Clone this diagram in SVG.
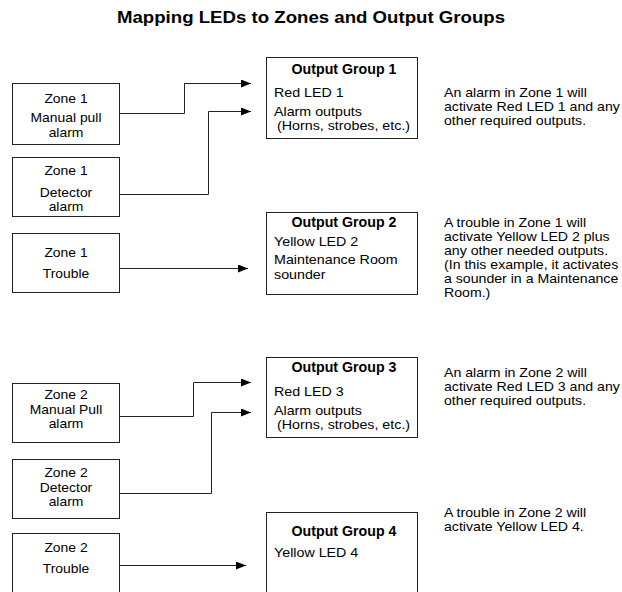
<svg xmlns="http://www.w3.org/2000/svg" width="622" height="592" viewBox="0 0 622 592">
<style>
text{font-family:"Liberation Sans",Arial,sans-serif;font-size:12.4px;fill:#000}
.t{font-size:16.5px;font-weight:bold}
.h{font-weight:bold;font-size:14.2px}
.c{text-anchor:middle}
.box{fill:#fff;stroke:#222;stroke-width:1}
.ln{fill:none;stroke:#222;stroke-width:1}
</style>
<defs>
<marker id="a" viewBox="0 0 10 8" refX="10" refY="4" markerWidth="10" markerHeight="8" markerUnits="userSpaceOnUse" orient="auto">
<path d="M0,0 L10,4 L0,8 z" fill="#000"/>
</marker>
</defs>
<g transform="translate(311,23) scale(1.13,1)"><text class="t c" x="0" y="0">Mapping LEDs to Zones and Output Groups</text></g>

<g id="z1m"><rect class="box" x="12.5" y="83.5" width="107" height="61"/>
<g transform="translate(66,0) scale(1.12,1)"><text class="c" x="0" y="103">Zone 1</text><text class="c" x="0" y="122">Manual pull</text><text class="c" x="0" y="137">alarm</text></g></g>
<g id="z1d"><rect class="box" x="12.5" y="157.5" width="107" height="59"/>
<g transform="translate(66,0) scale(1.12,1)"><text class="c" x="0" y="175">Zone 1</text><text class="c" x="0" y="197">Detector</text><text class="c" x="0" y="211">alarm</text></g></g>
<g id="z1t"><rect class="box" x="12.5" y="233.5" width="107" height="59"/>
<g transform="translate(66,0) scale(1.12,1)"><text class="c" x="0" y="257">Zone 1</text><text class="c" x="0" y="278">Trouble</text></g></g>

<g id="og1"><rect class="box" x="266.5" y="57.5" width="151" height="81"/>
<text class="h c" x="344" y="74">Output Group 1</text>
<g transform="translate(274,0) scale(1.15,1)"><text x="0" y="97">Red LED 1</text><text x="0" y="116">Alarm outputs</text><text x="2.6" y="130">(Horns, strobes, etc.)</text></g></g>
<g id="og2"><rect class="box" x="266.5" y="212.5" width="151" height="82"/>
<text class="h c" x="344" y="227">Output Group 2</text>
<g transform="translate(274,0) scale(1.15,1)"><text x="0" y="246">Yellow LED 2</text><text x="0" y="264">Maintenance Room</text><text x="0" y="279">sounder</text></g></g>

<g id="n1"><g transform="translate(444,0) scale(1.14,1)"><text x="0" y="97">An alarm in Zone 1 will</text><text x="0" y="111">activate Red LED 1 and any</text><text x="0" y="125">other required outputs.</text></g></g>
<g id="n2"><g transform="translate(444,0) scale(1.14,1)"><text x="0" y="227">A trouble in Zone 1 will</text><text x="0" y="241">activate Yellow LED 2 plus</text><text x="0" y="255">any other needed outputs.</text><text x="0" y="269">(In this example, it activates</text><text x="0" y="283">a sounder in a Maintenance</text><text x="0" y="297">Room.)</text></g></g>

<g id="z2m"><rect class="box" x="12.5" y="383.5" width="107" height="59"/>
<g transform="translate(66,0) scale(1.12,1)"><text class="c" x="0" y="399">Zone 2</text><text class="c" x="0" y="414">Manual Pull</text><text class="c" x="0" y="428">alarm</text></g></g>
<g id="z2d"><rect class="box" x="12.5" y="459.5" width="107" height="59"/>
<g transform="translate(66,0) scale(1.12,1)"><text class="c" x="0" y="477">Zone 2</text><text class="c" x="0" y="492">Detector</text><text class="c" x="0" y="506">alarm</text></g></g>
<g id="z2t"><rect class="box" x="12.5" y="533.5" width="107" height="70"/>
<g transform="translate(66,0) scale(1.12,1)"><text class="c" x="0" y="552">Zone 2</text><text class="c" x="0" y="573">Trouble</text></g></g>

<g id="og3"><rect class="box" x="266.5" y="357.5" width="151" height="80"/>
<text class="h c" x="344" y="372">Output Group 3</text>
<g transform="translate(274,0) scale(1.15,1)"><text x="0" y="396">Red LED 3</text><text x="0" y="415">Alarm outputs</text><text x="2.6" y="429">(Horns, strobes, etc.)</text></g></g>
<g id="og4"><rect class="box" x="266.5" y="512.5" width="151" height="90"/>
<text class="h c" x="344" y="536">Output Group 4</text>
<g transform="translate(274,0) scale(1.15,1)"><text x="0" y="557">Yellow LED 4</text></g></g>

<g id="n3"><g transform="translate(444,0) scale(1.14,1)"><text x="0" y="377">An alarm in Zone 2 will</text><text x="0" y="391">activate Red LED 3 and any</text><text x="0" y="405">other required outputs.</text></g></g>
<g id="n4"><g transform="translate(444,0) scale(1.14,1)"><text x="0" y="517">A trouble in Zone 2 will</text><text x="0" y="531">activate Yellow LED 4.</text></g></g>

<g id="connectors">
<path class="ln" marker-end="url(#a)" d="M119.5,113.5 H184.5 V83.5 H251"/>
<path class="ln" marker-end="url(#a)" d="M119.5,194.5 H208.5 V111.5 H251"/>
<path class="ln" marker-end="url(#a)" d="M119.5,268.5 H248"/>
<path class="ln" marker-end="url(#a)" d="M119.5,416.5 H193.5 V382.5 H251"/>
<path class="ln" marker-end="url(#a)" d="M119.5,493.5 H211.5 V412.5 H251"/>
<path class="ln" marker-end="url(#a)" d="M119.5,565.5 H246"/>
</g>
</svg>
